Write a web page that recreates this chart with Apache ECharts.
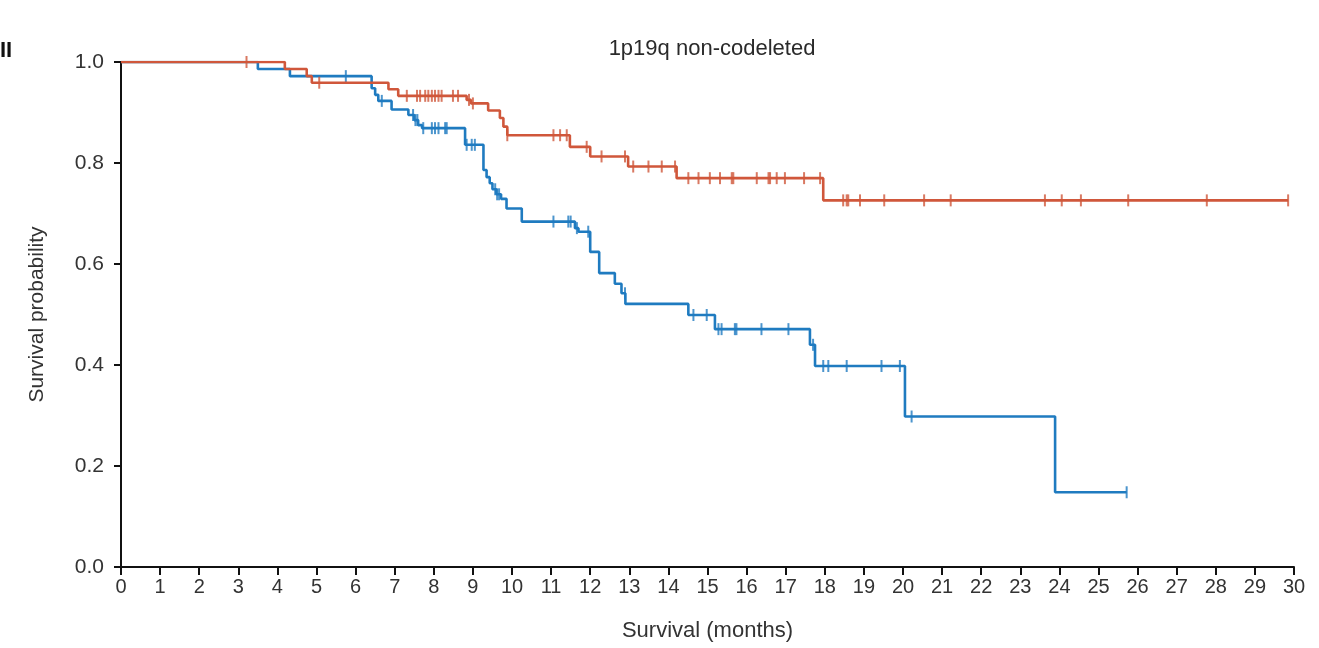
<!DOCTYPE html>
<html>
<head>
<meta charset="utf-8">
<script src="https://cdn.jsdelivr.net/npm/echarts@6/dist/echarts.min.js"></script>
<style>html,body{margin:0;padding:0;background:#fff;}#c{width:1319px;height:648px;}</style>
</head>
<body>
<div id="c"></div>
<script>
// ---- Data ----
const xTicks = [0,1,2,3,4,5,6,7,8,9,10,11,12,13,14,15,16,17,18,19,20,21,22,23,24,25,26,27,28,29,30];
const yTicks = [0.0,0.2,0.4,0.6,0.8,1.0];

// Red group: event times and survival after each event
const redTimes = [4.19, 4.75, 4.88, 6.84, 7.09, 8.84, 8.95, 9.39, 9.69, 9.78, 9.88, 11.48, 12.0, 12.97, 14.21, 17.96];
const redSurv  = [0.986, 0.972, 0.959, 0.946, 0.933, 0.925, 0.918, 0.904, 0.889, 0.872, 0.855, 0.832, 0.813, 0.793, 0.770, 0.726];
const redEnd = 29.85;
const redCensor = [3.21, 5.07, 7.31, 7.57, 7.65, 7.78, 7.86, 7.95, 8.03, 8.12, 8.20, 8.49, 8.62, 8.90, 9.00, 9.88, 11.06, 11.23, 11.40, 11.91, 12.29, 12.89, 13.10, 13.49, 13.83, 14.17, 14.51, 14.77, 15.06, 15.32, 15.62, 15.66, 16.26, 16.56, 16.60, 16.77, 16.98, 17.47, 17.88, 18.47, 18.56, 18.60, 18.90, 19.52, 20.54, 21.22, 23.63, 24.06, 24.55, 25.76, 27.77, 29.85];

// Blue group
const blueTimes = [3.5, 4.32, 6.41, 6.50, 6.58, 6.92, 7.35, 7.50, 7.60, 7.70, 8.80, 9.27, 9.35, 9.43, 9.50, 9.60, 9.72, 9.86, 10.25, 11.61, 11.70, 12.00, 12.23, 12.63, 12.80, 12.90, 14.51, 15.19, 17.62, 17.75, 20.05, 23.89];
const blueSurv  = [0.986, 0.972, 0.948, 0.935, 0.923, 0.906, 0.895, 0.885, 0.875, 0.869, 0.836, 0.786, 0.772, 0.760, 0.748, 0.738, 0.729, 0.710, 0.684, 0.671, 0.664, 0.624, 0.582, 0.561, 0.542, 0.521, 0.499, 0.471, 0.440, 0.398, 0.298, 0.148];
const blueEnd = 25.72;
const blueCensor = [5.75, 6.67, 7.47, 7.53, 7.58, 7.73, 7.95, 8.03, 8.12, 8.29, 8.33, 8.84, 8.97, 9.05, 9.57, 9.62, 9.67, 11.06, 11.44, 11.50, 11.66, 11.95, 12.89, 14.64, 14.98, 15.28, 15.36, 15.70, 15.74, 16.38, 17.07, 17.70, 17.96, 18.09, 18.56, 19.45, 19.92, 20.22, 25.72];

const titleText = '1p19q non-codeleted';
const xName = 'Survival (months)';
const yName = 'Survival probability';
const panelLabel = 'II';

const RED = '#D0573B';
const BLUE = '#1F7BC0';

function curve(times, surv, end) {
  const pts = [[0, 1]];
  for (let i = 0; i < times.length; i++) pts.push([times[i], surv[i]]);
  pts.push([end, surv[surv.length - 1]]);
  return pts;
}
function survAt(times, surv, t) {
  let s = 1;
  for (let i = 0; i < times.length; i++) { if (times[i] <= t) s = surv[i]; }
  return s;
}
function censorPts(times, surv, cens) {
  return cens.map(t => [t, survAt(times, surv, t)]);
}

const chart = echarts.init(document.getElementById('c'), null, {renderer: 'canvas'});
const FONT = 'Liberation Sans, Arial, sans-serif';
chart.setOption({
  backgroundColor: '#fff',
  animation: false,
  title: {
    text: titleText, left: 707, top: 33, textAlign: 'center',
    textStyle: {fontFamily: FONT, fontSize: 22, fontWeight: 'normal', color: '#2a2a2a'}
  },
  graphic: [{
    type: 'text', left: 0, top: 40,
    style: {text: panelLabel, fontFamily: FONT, fontSize: 22, fontWeight: 'bold', fill: '#111'}
  }],
  grid: {left: 121, right: 25, top: 62, bottom: 81},
  xAxis: {
    type: 'value', min: 0, max: 30, interval: 1,
    name: xName, nameLocation: 'middle', nameGap: 53,
    nameTextStyle: {fontFamily: FONT, fontSize: 22, color: '#333'},
    axisLine: {show: true, lineStyle: {color: '#111', width: 2}},
    axisTick: {show: true, length: 8, lineStyle: {color: '#111', width: 2}},
    axisLabel: {fontFamily: FONT, fontSize: 20, color: '#333', margin: 10,
      formatter: v => xTicks.includes(v) ? String(v) : ''},
    splitLine: {show: false}
  },
  yAxis: {
    type: 'value', min: 0, max: 1, interval: 0.2,
    name: yName, nameLocation: 'middle', nameGap: 73, nameRotate: 90,
    nameTextStyle: {fontFamily: FONT, fontSize: 21, color: '#333'},
    axisLine: {show: true, lineStyle: {color: '#111', width: 2}},
    axisTick: {show: true, length: 7, lineStyle: {color: '#111', width: 2}},
    axisLabel: {fontFamily: FONT, fontSize: 21, color: '#333', margin: 17,
      formatter: v => yTicks.some(t => Math.abs(t - v) < 1e-6) ? v.toFixed(1) : ''},
    splitLine: {show: false}
  },
  series: [
    {type: 'line', step: 'end', data: curve(blueTimes, blueSurv, blueEnd), showSymbol: false,
     lineStyle: {color: BLUE, width: 2.6}, z: 2},
    {type: 'scatter', data: censorPts(blueTimes, blueSurv, blueCensor), symbol: 'rect', symbolSize: [2, 12],
     itemStyle: {color: BLUE}, z: 3},
    {type: 'line', step: 'end', data: curve(redTimes, redSurv, redEnd), showSymbol: false,
     lineStyle: {color: RED, width: 2.6}, z: 4},
    {type: 'scatter', data: censorPts(redTimes, redSurv, redCensor), symbol: 'rect', symbolSize: [2, 12],
     itemStyle: {color: RED}, z: 5}
  ]
});
</script>
</body>
</html>
